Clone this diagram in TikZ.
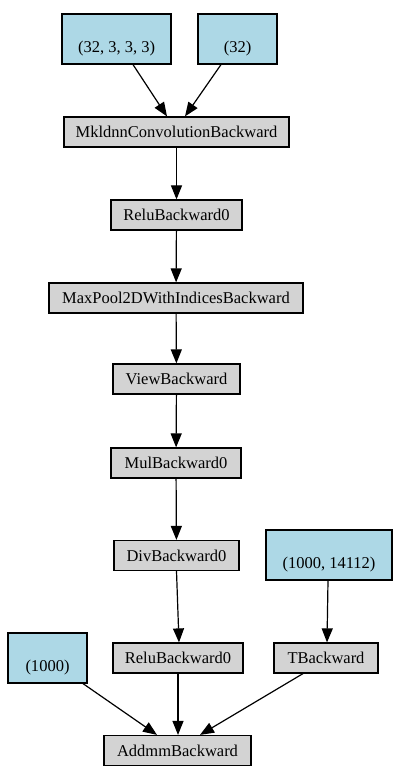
\documentclass[tikz,border=0pt]{standalone}
\usepackage{fontspec}
\setmainfont{Liberation Serif}
\usetikzlibrary{arrows.meta}
\begin{document}
\begin{tikzpicture}[x=1pt,y=-1pt,
  op/.style={draw=black, line width=1.2pt, fill={rgb,255:red,211;green,211;blue,211}, minimum height=30pt, inner sep=0pt, font=\fontsize{16.5}{19}\selectfont},
  leaf/.style={draw=black, line width=1.2pt, fill={rgb,255:red,173;green,216;blue,230}, minimum height=50pt, inner sep=0pt},
  lbl/.style={inner sep=0pt, font=\fontsize{16.5}{19}\selectfont},
  edge/.style={line width=1.2pt, -{Triangle[length=14pt,width=11pt]}}
]
\useasboundingbox (0,0) rectangle (406,783);
% leaves
\node[leaf, minimum width=109pt] (w1) at (116.5,39) {};
\node[lbl] (w1t) at (116.5,49) {(32, 3, 3, 3)};
\node[leaf, minimum width=79pt] (w2) at (237.5,39) {};
\node[lbl] (w2t) at (237.5,49) {(32)};
\node[leaf, minimum width=126pt] (w3) at (329,555) {};
\node[lbl] (w3t) at (329,565) {(1000, 14112)};
\node[leaf, minimum width=79pt] (w4) at (47.5,658) {};
\node[lbl] (w4t) at (47.5,668) {(1000)};
% ops
\node[op, minimum width=225pt] (conv) at (176.5,132) {MkldnnConvolutionBackward};
\node[op, minimum width=131pt] (relu1) at (176.5,215) {ReluBackward0};
\node[op, minimum width=254pt] (pool) at (176,298) {MaxPool2DWithIndicesBackward};
\node[op, minimum width=127pt] (view) at (176.5,379) {ViewBackward};
\node[op, minimum width=130pt] (mul) at (176,463) {MulBackward0};
\node[op, minimum width=125pt] (div) at (176.5,555.5) {DivBackward0};
\node[op, minimum width=130pt] (relu2) at (178,658) {ReluBackward0};
\node[op, minimum width=104pt] (tb) at (326,658) {TBackward};
\node[op, minimum width=147pt] (addmm) at (177.5,750.5) {AddmmBackward};
% edges
\draw[edge] (w1.south -| 133,0) -- (conv.north -| 167,0);
\draw[edge] (w2.south -| 221,0) -- (conv.north -| 185,0);
\draw[edge] (conv) -- (relu1);
\draw[edge] (relu1) -- (pool);
\draw[edge] (pool) -- (view);
\draw[edge] (view) -- (mul);
\draw[edge] (mul) -- (div);
\draw[edge] (div.south -| 176.5,0) -- (relu2.north -| 179,0);
\draw[edge] (w3.south -| 328,0) -- (tb.north -| 327,0);
\draw[edge] (w4.south -| 83,0) -- (addmm.north -| 157,0);
\draw[edge] (relu2) -- (addmm.north -| 178,0);
\draw[edge] (tb.south -| 303,0) -- (addmm.north -| 200,0);
\end{tikzpicture}
\end{document}
